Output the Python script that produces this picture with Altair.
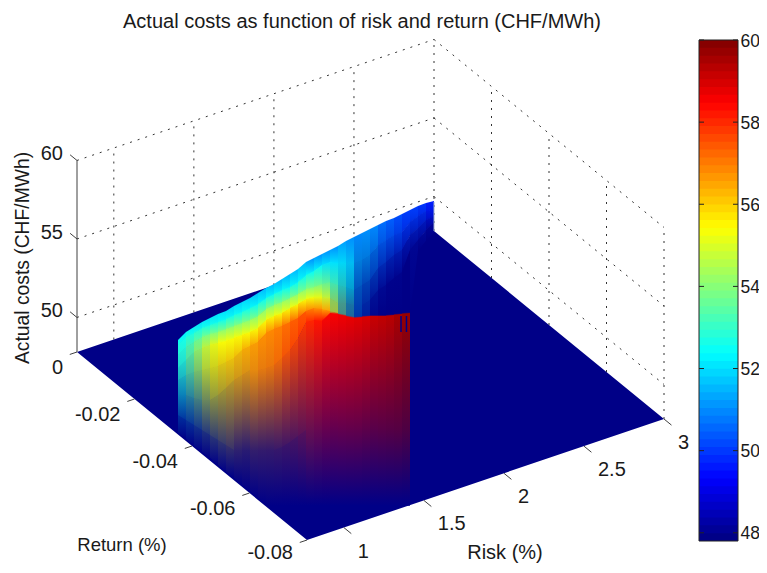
import altair as alt
import numpy as np

# ---- values -----------------------------------------------------------------
risk_ticks = [1, 1.5, 2, 2.5, 3]
risk_labels = ["1", "1.5", "2", "2.5", "3"]
return_ticks = [0, -0.02, -0.04, -0.06, -0.08]
return_labels = ["0", "-0.02", "-0.04", "-0.06", "-0.08"]
cost_ticks = [50, 55, 60]
bar_ticks = [48, 50, 52, 54, 56, 58, 60]
spike_risk = [2.794, 2.828]

FLOOR = 47.8
TOP = 60.0
RISK0 = 0.77
RISK1 = 3.0

# vertical strips of the surface as seen in the picture: position along the
# risk axis, picture rows of colour stops, cost at each stop and how far each
# stop has faded to the colour of the floor.
strip_risk = [1.40, 1.45, 1.50, 1.55, 1.60, 1.65, 1.70, 1.75, 1.80, 1.85, 1.90,
              1.95, 2.00, 2.05, 2.10, 2.15, 2.20, 2.25, 2.30, 2.35, 2.40, 2.45,
              2.50, 2.55, 2.60, 2.65, 2.70, 2.75, 2.80, 2.85, 2.90, 2.95, 3.00]
strip_rows = [
    [340, 345, 355, 368, 380, 395, 415, 432],
    [332, 337, 347, 360, 375, 395, 420, 438],
    [327, 333, 342, 352, 372, 398, 425, 445],
    [322, 328, 337, 348, 370, 400, 430, 451],
    [318, 325, 334, 345, 368, 400, 435, 457],
    [314, 322, 332, 343, 366, 395, 440, 464],
    [311, 319, 329, 341, 362, 388, 445, 471],
    [306, 315, 326, 338, 358, 380, 450, 477],
    [302, 312, 323, 335, 350, 375, 450, 484],
    [298, 308, 320, 332, 346, 370, 450, 490],
    [293, 304, 316, 328, 342, 370, 450, 497],
    [288, 298, 309, 320, 333, 368, 450, 503],
    [284, 294, 305, 316, 329, 365, 450, 505],
    [279, 290, 302, 313, 326, 358, 447, 505],
    [274, 287, 298, 308, 322, 350, 442, 505],
    [269, 282, 294, 304, 318, 338, 436, 505],
    [262, 275, 289, 299, 311, 322, 430, 505],
    [258, 271, 287, 297, 308, 320, 430, 505],
    [254, 265, 284, 297, 309, 321, 430, 505],
    [250, 262, 282, 298, 311, 313, 430, 505],
    [246, 263, 285, 303, 313, 314, 430, 505],
    [241, 262, 287, 303, 315, 316, 430, 505],
    [237, 263, 290, 305, 317, 318, 430, 505],
    [233, 260, 285, 305, 316, 317, 430, 505],
    [229, 255, 280, 300, 315, 316, 430, 505],
    [225, 245, 268, 290, 315, 316, 430, 505],
    [221, 240, 262, 285, 315, 316, 430, 505],
    [218, 235, 255, 278, 314, 315, 430, 505],
    [214, 232, 250, 272, 313, 314, 430, 505],
    [210, 222, 235, 250, 312, 313, 430, 505],
    [206, 216, 228, 240, 250],
    [203, 211, 220, 230, 240],
    [201, 209, 216, 222, 232],
]
strip_cost = [
    [52.2, 52.6, 52.8, 52.8, 52.8, 52.6, 52.2, 52.0],
    [52.2, 52.7, 53.3, 53.5, 53.5, 53.3, 52.8, 52.0],
    [52.0, 52.7, 53.6, 54.2, 54.3, 54.0, 53.5, 53.0],
    [52.0, 52.6, 53.8, 54.8, 55.0, 54.8, 54.3, 53.0],
    [52.0, 52.6, 53.9, 55.2, 55.4, 55.3, 54.8, 54.0],
    [52.0, 52.5, 54.0, 55.4, 55.8, 55.7, 55.2, 54.0],
    [51.8, 52.5, 54.0, 55.4, 56.0, 56.0, 55.8, 54.0],
    [51.8, 52.5, 54.0, 55.4, 56.2, 56.3, 56.3, 55.0],
    [51.8, 52.5, 54.0, 55.4, 56.4, 56.5, 56.5, 55.0],
    [51.6, 52.4, 54.0, 55.4, 56.6, 56.7, 56.7, 55.0],
    [51.5, 52.4, 54.0, 55.4, 56.8, 56.9, 56.9, 56.0],
    [51.5, 52.4, 54.0, 55.4, 56.9, 57.0, 57.0, 56.0],
    [51.4, 52.4, 54.0, 55.4, 57.0, 57.2, 57.2, 56.0],
    [51.4, 52.4, 54.0, 55.4, 57.2, 57.5, 57.5, 57.0],
    [51.5, 52.4, 54.0, 55.4, 57.4, 57.7, 57.7, 57.0],
    [51.5, 52.4, 54.0, 55.4, 57.5, 57.9, 57.9, 57.0],
    [51.0, 52.4, 54.0, 55.3, 57.0, 58.1, 58.1, 57.0],
    [51.0, 52.3, 53.9, 55.2, 56.8, 58.3, 58.3, 57.0],
    [51.0, 52.0, 53.6, 54.9, 56.6, 58.5, 58.6, 57.0],
    [51.0, 52.0, 53.2, 54.4, 55.0, 58.6, 58.7, 57.0],
    [51.2, 52.0, 52.9, 53.7, 53.9, 58.7, 58.8, 57.0],
    [51.0, 51.8, 52.4, 53.0, 53.2, 58.8, 58.9, 57.0],
    [50.9, 51.4, 51.5, 51.5, 51.5, 58.9, 59.0, 57.0],
    [51.0, 51.3, 51.3, 51.2, 51.0, 59.0, 59.2, 57.0],
    [50.9, 51.0, 51.0, 50.8, 50.6, 59.2, 59.3, 57.0],
    [50.6, 50.6, 50.6, 50.4, 50.0, 59.3, 59.4, 57.0],
    [50.4, 50.4, 50.4, 50.0, 50.0, 59.4, 59.5, 57.0],
    [50.2, 50.2, 50.2, 50.0, 50.0, 59.6, 59.6, 57.0],
    [50.0, 50.0, 50.0, 50.0, 50.0, 59.8, 59.8, 57.0],
    [50.0, 50.0, 50.0, 50.0, 50.0, 59.8, 59.8, 57.0],
    [49.9, 49.9, 49.9, 49.9, 49.9],
    [49.6, 49.6, 49.6, 49.6, 49.6],
    [49.4, 49.4, 49.4, 49.4, 49.4],
]
strip_fade = [
    [0, 0, .05, .15, .30, .50, .80, 1],
    [0, 0, .05, .12, .27, .50, .80, 1],
    [0, 0, .02, .08, .25, .50, .80, 1],
    [0, 0, 0, .05, .20, .47, .80, 1],
    [0, 0, 0, .03, .18, .42, .78, 1],
    [0, 0, 0, 0, .13, .36, .78, 1],
    [0, 0, 0, 0, .08, .28, .78, 1],
    [0, 0, 0, 0, .06, .20, .82, 1],
    [0, 0, 0, 0, .03, .16, .84, 1],
    [0, 0, 0, 0, .02, .10, .80, 1],
    [0, 0, 0, 0, 0, .10, .80, 1],
    [0, 0, 0, 0, 0, .09, .80, 1],
    [0, 0, 0, 0, 0, .06, .78, 1],
    [0, 0, 0, 0, 0, .05, .76, 1],
    [0, 0, 0, 0, 0, .03, .72, 1],
    [0, 0, 0, 0, 0, .01, .66, 1],
    [0, 0, 0, 0, 0, 0, .60, 1],
    [0, 0, .02, .02, 0, 0, .60, 1],
    [0, 0, .05, .05, 0, 0, .60, 1],
    [0, 0, .10, .20, .25, 0, .60, 1],
    [0, .05, .25, .40, .45, 0, .58, 1],
    [0, .10, .38, .55, .60, 0, .57, 1],
    [0, .30, .55, .65, .70, 0, .56, 1],
    [0, .30, .60, .75, .80, 0, .55, 1],
    [0, .30, .60, .85, .95, 0, .55, 1],
    [0, .25, .60, .90, 1, 0, .53, 1],
    [0, .25, .65, .95, 1, 0, .52, 1],
    [0, .25, .65, .95, 1, 0, .50, 1],
    [0, .25, .65, 1, 1, 0, .50, 1],
    [0, .25, .60, .90, 1, 0, .50, 1],
    [0, .25, .55, .85, 1],
    [0, .20, .50, .85, 1],
    [0, .20, .50, .85, 1],
]

# ---- view of the 3-D axes ----------------------------------------------------
W, H = 751, 557
MX, MY = 8, 8


def view(risk, ret, cost=FLOOR):
    """Orthographic projection of (risk, return, cost) to the picture plane."""
    a = (risk - RISK0) / (RISK1 - RISK0)
    b = ret / -0.08
    return (77 + 357 * a + 230 * b,
            352 - 121 * a + 188 * b - (cost - FLOOR) * 15.7)


def jet(i):
    t = (i + 0.5) / 64
    return (float(np.clip(min(4 * t - 1.5, -4 * t + 4.5), 0, 1)),
            float(np.clip(min(4 * t - 0.5, -4 * t + 3.5), 0, 1)),
            float(np.clip(min(4 * t + 0.5, -4 * t + 2.5), 0, 1)))


def to_hex(c):
    return "#%02x%02x%02x" % tuple(int(round(255 * v)) for v in c)


JET = [jet(i) for i in range(64)]
NAVY = JET[0]


def shade(cost, fade):
    pos = (cost - FLOOR) / (TOP - FLOOR) * 63
    lo = int(np.clip(np.floor(pos), 0, 62))
    k = pos - lo
    col = [JET[lo][n] * (1 - k) + JET[lo + 1][n] * k for n in range(3)]
    return to_hex([col[n] * (1 - fade) + NAVY[n] * fade for n in range(3)])


xs = alt.X("x:Q", scale=alt.Scale(domain=[MX, MX + W], nice=False, zero=False), axis=None)
ys = alt.Y("y:Q", scale=alt.Scale(domain=[MY + H, MY], nice=False, zero=False), axis=None, stack=None)
FONT = "Liberation Sans"
INK = "#1a1a1a"


def segs(rows, **kw):
    return alt.Chart(alt.Data(values=rows)).mark_rule(**kw).encode(
        x=xs, y=ys, x2="x2:Q", y2="y2:Q")


def seg(a, b):
    return {"x": a[0], "y": a[1], "x2": b[0], "y2": b[1]}


def texts(rows, **kw):
    opts = dict(font=FONT, fontSize=20, color=INK, align="center", baseline="middle")
    opts.update(kw)
    return alt.Chart(alt.Data(values=rows)).mark_text(**opts).encode(x=xs, y=ys, text="t:N")


# dotted grid on the two back walls
grid = []
for c in cost_ticks:
    grid.append(seg(view(RISK0, 0, c), view(RISK1, 0, c)))
    grid.append(seg(view(RISK1, 0, c), view(RISK1, -0.08, c)))
for r in risk_ticks:
    grid.append(seg(view(r, 0), view(r, 0, TOP)))
for q in return_ticks[1:]:
    grid.append(seg(view(RISK1, q), view(RISK1, q, TOP)))
grid_layer = segs(grid, color="#333333", strokeWidth=1, strokeDash=[2, 6])

# floor
L, B, T, R = view(RISK0, 0), view(RISK0, -0.08), view(RISK1, 0), view(RISK1, -0.08)
floor_x = [L[0], B[0], T[0], R[0]]
upper = np.interp(floor_x, [L[0], T[0], R[0]], [L[1], T[1], R[1]])
lower = np.interp(floor_x, [L[0], B[0], R[0]], [L[1], B[1], R[1]])
floor_rows = [{"x": a, "y": u, "y2": v} for a, u, v in zip(floor_x, upper, lower)]
floor_layer = alt.Chart(alt.Data(values=floor_rows)).mark_area(
    color=to_hex(NAVY), interpolate="linear").encode(x=xs, y=ys, y2="y2:Q")

# surface: one facet between two neighbouring read strips and two read stops
cells = []
for i in range(len(strip_risk) - 1):
    x0 = round(view(strip_risk[i], 0)[0])
    x1 = round(view(strip_risk[i + 1], 0)[0])
    a, b = strip_rows[i], strip_rows[i + 1]
    costs, fades = strip_cost[i], strip_fade[i]
    for k in range(len(b) - 1):
        g = {"gradient": "linear", "x1": 0, "y1": 0, "x2": 0, "y2": 1,
             "stops": [{"offset": 0, "color": shade(costs[k], fades[k])},
                       {"offset": 1, "color": shade(costs[k + 1], fades[k + 1])}]}
        cell = "%03d-%d" % (i, k)
        cells.append({"x": x0, "y": a[k], "y2": a[k + 1] + 0.7, "id": cell, "g": g})
        cells.append({"x": x1, "y": b[k], "y2": b[k + 1] + 0.7, "id": cell, "g": g})
surface_layer = alt.Chart(alt.Data(values=cells)).mark_area(
    interpolate="linear", strokeWidth=0, line=False).encode(
    x=xs, y=ys, y2="y2:Q", detail="id:N", color=alt.Color("g:N", scale=None))

# frayed corner of the high block and the light edge at the far corner
spikes = []
for r in spike_risk:
    p = view(r, 0)
    spikes.append({"x": p[0], "y": 316, "x2": p[0], "y2": 332})
spike_layer = segs(spikes, color=to_hex(NAVY), strokeWidth=1.5)
far = view(RISK1, 0)
edge_layer = segs([{"x": far[0], "y": 202, "x2": far[0], "y2": far[1]}], color="#9fb0d0", strokeWidth=1)

# cost axis and tick stubs
axis_rows = [seg(view(RISK0, 0), view(RISK0, 0, TOP))]
for c in cost_ticks:
    axis_rows.append(seg(view(RISK0, 0, c), view(RISK0, 0.0024, c)))
for q in return_ticks:
    axis_rows.append(seg(view(RISK0, q), view(RISK0 - 0.045, q)))
for r in risk_ticks:
    axis_rows.append(seg(view(r, -0.08), view(r, -0.0826)))
axis_layer = segs(axis_rows, color="#404040", strokeWidth=1)

# tick labels placed beside the ticks
lab_r = []
for c in cost_ticks:
    p = view(RISK0, 0, c)
    lab_r.append({"x": p[0] - 14, "y": p[1] - 6, "t": str(c)})
for q, t in zip(return_ticks, return_labels):
    p = view(RISK0, q)
    lab_r.append({"x": p[0] - 14, "y": p[1] + (16 if q > -0.07 else 13), "t": t})
lab_l = []
for r, t in zip(risk_ticks, risk_labels):
    p = view(r, -0.08)
    lab_l.append({"x": p[0] + 14, "y": p[1] + 24, "t": t})
label_r = texts(lab_r, align="right")
label_l = texts(lab_l, align="left")

name_layer = texts([{"x": 505, "y": 553, "t": "Risk (%)"}], fontSize=20)
rname_layer = texts([{"x": 122, "y": 545, "t": "Return (%)"}], fontSize=18.5)
zname_layer = texts([{"x": 23, "y": 258, "t": "Actual costs (CHF/MWh)"}], fontSize=19.3, angle=270)
title_layer = texts([{"x": 362, "y": 22, "t": "Actual costs as function of risk and return (CHF/MWh)"}],
                    fontSize=20)

# colour bar with its own cost scale
bar_edges = np.linspace(FLOOR, TOP, 65)
bar_rows = [{"c": float(bar_edges[i]), "c2": float(bar_edges[i + 1]) + 0.03,
             "k": (float(bar_edges[i]) + float(bar_edges[i + 1])) / 2}
            for i in range(64)]
bar_rows[-1]["c2"] = TOP
bar_y_scale = alt.Scale(domain=[FLOOR, TOP], range=[541 - MY, 40 - MY], nice=False, zero=False)
BX0, BX1 = 699 - MX, 738 - MX
bar_axis = alt.Axis(orient="right", offset=738 - (MX + W), values=bar_ticks, ticks=False,
                    domain=False, grid=False, title=None, labelFont=FONT, labelFontSize=17.5,
                    labelColor=INK, labelPadding=2, labelOffset=1, labelOverlap=False)
bar = alt.Chart(alt.Data(values=bar_rows)).mark_rect(strokeWidth=0).encode(
    x=alt.value(BX0), x2=alt.value(BX1),
    y=alt.Y("c:Q", scale=bar_y_scale, axis=bar_axis),
    y2="c2:Q",
    color=alt.Color("k:Q", legend=None,
                    scale=alt.Scale(type="threshold", domain=[float(v) for v in bar_edges[1:-1]],
                                    range=[to_hex(c) for c in JET])))
frame = alt.Chart(alt.Data(values=[{"c": FLOOR, "c2": TOP}])).mark_rect(
    fillOpacity=0, stroke="#222222", strokeWidth=1).encode(
    x=alt.value(BX0), x2=alt.value(BX1), y=alt.Y("c:Q", scale=bar_y_scale, axis=bar_axis), y2="c2:Q")
tick_rows = [{"c": v} for v in bar_ticks]
tick_l = alt.Chart(alt.Data(values=tick_rows)).mark_rule(color="#222222").encode(
    x=alt.value(BX0), x2=alt.value(BX0 + 5), y=alt.Y("c:Q", scale=bar_y_scale, axis=bar_axis))
tick_r = alt.Chart(alt.Data(values=tick_rows)).mark_rule(color="#222222").encode(
    x=alt.value(BX1 - 5), x2=alt.value(BX1), y=alt.Y("c:Q", scale=bar_y_scale, axis=bar_axis))
colorbar = alt.layer(bar, frame, tick_l, tick_r)

view_part = alt.layer(grid_layer, floor_layer, surface_layer, spike_layer, edge_layer, axis_layer,
                      label_r, label_l, name_layer, rname_layer, zname_layer, title_layer)

chart = alt.layer(view_part, colorbar).resolve_scale(
    y="independent", x="independent", color="independent"
).properties(
    width=W, height=H, padding=0, autosize=alt.AutoSizeParams(type="none"),
    background="white",
).configure_view(stroke=None)

chart.save("out.html", embed_options={"renderer": "svg", "actions": False})
